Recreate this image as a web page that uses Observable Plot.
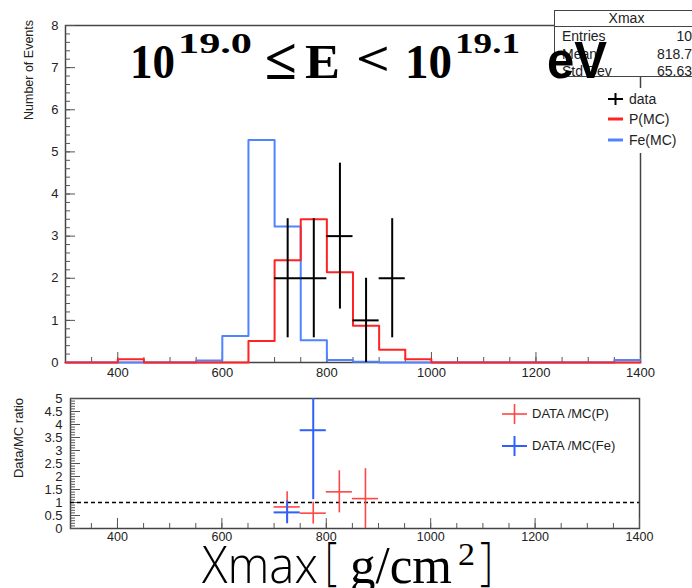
<!DOCTYPE html>
<html>
<head>
<meta charset="utf-8">
<script src="https://cdn.jsdelivr.net/npm/d3@7"></script>
<script src="https://cdn.jsdelivr.net/npm/@observablehq/plot@0.6"></script>
<style>
  body { margin: 0; background: #fff; }
  #chart { position: relative; width: 692px; height: 588px; overflow: hidden;
           font-family: "Liberation Sans", Arial, sans-serif; color: #222; }
  #chart > svg, #chart > div { position: absolute; }
  .stats { left: 554px; top: 10px; width: 145px; height: 67px; background: #fff;
           border: 1px solid #444; box-sizing: border-box; font-size: 14px; line-height: 17px; }
  .stats .head { text-align: center; border-bottom: 1px solid #444; height: 15px; line-height: 15px; }
  .stats .row { display: flex; justify-content: space-between; padding: 0 6px 0 7px; height: 17.5px; line-height: 18px; }
  .legend { background: #fff; font-size: 14px; }
  .legend .item { position: absolute; white-space: nowrap; }
  .legend svg { position: absolute; }
</style>
</head>
<body>
<div id="chart"></div>
<script>
// Xmax histogram, 50 g/cm^2 bins from 300 to 1400
const binLeft = [300, 350, 400, 450, 500, 550, 600, 650, 700, 750, 800,
                 850, 900, 950, 1000, 1050, 1100, 1150, 1200, 1250, 1300, 1350];
const binRight = 1400;
const binHalf = 25;

// Proton simulation (normalised to data)
const protonMC = [0, 0, 0.08, 0, 0, 0, 0, 0.51, 2.43, 3.40, 2.14,
                  0.87, 0.30, 0.08, 0, 0, 0, 0, 0, 0, 0, 0];
// Iron simulation (normalised to data)
const ironMC = [0, 0, 0, 0, 0, 0.05, 0.63, 5.28, 3.23, 0.53, 0.06,
                0.02, 0, 0, 0, 0, 0, 0, 0, 0, 0, 0.06];

// Observed events (bin centres, counts, Poisson errors)
const dataX = [725, 775, 825, 875, 925];
const dataN = [2, 2, 3, 1, 2];
const dataErr = [1.414, 1.414, 1.732, 1.0, 1.414];

// Data / MC ratios
const ratioPX = [725, 775, 825, 875];
const ratioP = [0.83, 0.59, 1.41, 1.15];
const ratioPErr = [0.58, 0.42, 0.81, 1.15];
const ratioFeX = [725, 775];
const ratioFe = [0.62, 3.78];
const ratioFeErr = [0.44, 2.67];

// Axis ticks
const topYTicks = [0, 1, 2, 3, 4, 5, 6, 7, 8];
const xTicks = [400, 600, 800, 1000, 1200, 1400];
const ratioYTicks = [0, 0.5, 1, 1.5, 2, 2.5, 3, 3.5, 4, 4.5, 5];

const RED = "#ff2323";
const BLUE = "#5083ff";
const RED_R = "#ff4646";
const BLUE_R = "#2f60ff";
const FRAME = "#444";
const TICK = "#555";

const stepPts = vals => [
  ...binLeft.map((x, i) => ({x, y: vals[i]})),
  {x: binRight, y: vals[vals.length - 1]}
];
const points = dataX.map((x, i) => ({x, y: dataN[i], e: dataErr[i]}));
const rP = ratioPX.map((x, i) => ({x, y: ratioP[i], e: ratioPErr[i]}));
const rFe = ratioFeX.map((x, i) => ({x, y: ratioFe[i], e: ratioFeErr[i]}));

const fmt = d => String(d);
const font = {fontFamily: "Liberation Sans, Arial, sans-serif", color: "#222", background: "transparent", overflow: "visible"};

const crosses = (pts, stroke, strokeWidth) => [
  Plot.ruleX(pts, {x: "x", y1: d => d.y - d.e, y2: d => d.y + d.e, stroke, strokeWidth, clip: true}),
  Plot.ruleY(pts, {y: "y", x1: d => d.x - binHalf, x2: d => d.x + binHalf, stroke, strokeWidth, clip: true})
];

// Upper panel: event distribution
const upper = Plot.plot({
  width: 692, height: 390,
  marginLeft: 65, marginRight: 52, marginTop: 25, marginBottom: 28,
  x: {domain: [300, 1400]},
  y: {domain: [0, 8]},
  style: {...font, fontSize: "13px"},
  marks: [
    Plot.frame({stroke: FRAME, strokeWidth: 1.5}),
    Plot.axisY(topYTicks, {anchor: "left", tickSize: -10, tickPadding: 17, stroke: TICK, tickFormat: fmt, label: null, fontSize: 13}),
    Plot.axisY(d3.range(0, 8, 0.2), {anchor: "left", tickSize: -5, stroke: TICK, tickFormat: () => "", label: null}),
    Plot.axisX(xTicks, {anchor: "bottom", tickSize: -10, tickPadding: 15, stroke: TICK, tickFormat: fmt, label: null, fontSize: 13}),
    Plot.axisX(d3.range(350, 1400, 50), {anchor: "bottom", tickSize: -5, stroke: TICK, tickFormat: () => "", label: null}),
    Plot.line(stepPts(ironMC), {x: "x", y: "y", curve: "step-after", stroke: BLUE, strokeWidth: 2}),
    Plot.line(stepPts(protonMC), {x: "x", y: "y", curve: "step-after", stroke: RED, strokeWidth: 2}),
    ...crosses(points, "#000", 2)
  ]
});

// Lower panel: data / MC ratio
const lower = Plot.plot({
  width: 692, height: 180,
  marginLeft: 70, marginRight: 53, marginTop: 18, marginBottom: 32,
  x: {domain: [310, 1400]},
  y: {domain: [0, 5]},
  style: {...font, fontSize: "12.5px"},
  marks: [
    Plot.frame({stroke: FRAME, strokeWidth: 1.5}),
    Plot.axisY(ratioYTicks, {anchor: "left", tickSize: -10, tickPadding: 18, stroke: TICK, tickFormat: fmt, label: null, fontSize: 13}),
    Plot.axisY(d3.range(0, 5, 0.1), {anchor: "left", tickSize: -5, stroke: TICK, tickFormat: () => "", label: null}),
    Plot.axisX(xTicks, {anchor: "bottom", tickSize: -10, tickPadding: 14, stroke: TICK, tickFormat: fmt, label: null, fontSize: 12.5}),
    Plot.axisX(d3.range(350, 1400, 50), {anchor: "bottom", tickSize: -5, stroke: TICK, tickFormat: () => "", label: null}),
    Plot.ruleY([1], {stroke: "#000", strokeWidth: 1.5, strokeDasharray: "4,3"}),
    ...crosses(rP, RED_R, 1.6),
    ...crosses(rFe, BLUE_R, 2)
  ]
});

const chart = document.getElementById("chart");
upper.style.left = "0px"; upper.style.top = "0px";
lower.style.left = "0px"; lower.style.top = "380px";
chart.appendChild(upper);
chart.appendChild(lower);

// Statistics box
const stats = document.createElement("div");
stats.className = "stats";
stats.innerHTML = `<div class="head">Xmax</div>
  <div class="row"><span>Entries</span><span>10</span></div>
  <div class="row"><span>Mean</span><span>818.7</span></div>
  <div class="row"><span>Std Dev</span><span>65.63</span></div>`;
chart.appendChild(stats);

// Legends
function legend(left, top, width, height, items, fontSize) {
  const box = document.createElement("div");
  box.className = "legend";
  Object.assign(box.style, {left: left + "px", top: top + "px", width: width + "px", height: height + "px", fontSize: fontSize + "px"});
  for (const it of items) {
    const s = d3.create("svg").attr("width", it.w).attr("height", 24)
      .style("left", it.sx + "px").style("top", (it.cy - 12) + "px");
    s.append("line").attr("x1", 0).attr("x2", it.w).attr("y1", 12).attr("y2", 12)
      .attr("stroke", it.color).attr("stroke-width", it.sw);
    if (it.cross) s.append("line").attr("x1", it.w / 2).attr("x2", it.w / 2)
      .attr("y1", 12 - it.vh).attr("y2", 12 + it.vh).attr("stroke", it.color).attr("stroke-width", it.sw);
    box.appendChild(s.node());
    const t = document.createElement("div");
    t.className = "item";
    t.textContent = it.label;
    Object.assign(t.style, {left: it.tx + "px", top: (it.cy - fontSize * 0.6) + "px", lineHeight: "1.2"});
    box.appendChild(t);
  }
  chart.appendChild(box);
  return box;
}
legend(600, 88, 92, 65, [
  {label: "data", color: "#000", sw: 2, cross: true, vh: 6, sx: 8, w: 15, tx: 29, cy: 11},
  {label: "P(MC)", color: RED, sw: 3, cross: false, sx: 8, w: 15, tx: 29, cy: 31},
  {label: "Fe(MC)", color: BLUE, sw: 3, cross: false, sx: 8, w: 15, tx: 29, cy: 52}
], 14);
const ratioLegend = legend(495, 400, 150, 60, [
  {label: "DATA /MC(P)", color: RED_R, sw: 1.6, cross: true, vh: 10, sx: 7, w: 25, tx: 37, cy: 14},
  {label: "DATA /MC(Fe)", color: BLUE_R, sw: 2, cross: true, vh: 10, sx: 7, w: 25, tx: 37, cy: 46}
], 13);
ratioLegend.style.background = "transparent";

// Titles drawn on top
const ov = d3.create("svg").attr("width", 692).attr("height", 588)
  .style("left", "0px").style("top", "0px").style("pointer-events", "none");
const serif = "Liberation Serif, Times New Roman, serif";
const sans = "Liberation Sans, Arial, sans-serif";
const light = "Open Sans, Noto Sans, sans-serif";
const piece = (txt, x, y, size, len, family, weight) =>
  ov.append("text").attr("x", x).attr("y", y).attr("font-size", size)
    .attr("font-family", family).attr("font-weight", weight)
    .attr("textLength", len).attr("lengthAdjust", "spacingAndGlyphs").attr("fill", "#000").text(txt);

// Energy range title
piece("10", 130, 78, 48, 45, serif, "bold");
piece("19.0", 178, 53, 30, 74, serif, "bold");
piece("≤", 265, 79, 58, 32, serif, "bold");
piece("E", 305, 78, 48, 35, serif, "bold");
piece("<", 356, 75, 48, 34, serif, "bold");
piece("10", 405, 78, 48, 47, serif, "bold");
piece("19.1", 455, 53, 30, 65, serif, "bold");
piece("eV", 547, 78, 52, 60, sans, "bold");

// x-axis title
piece("Xmax", 202, 583, 52, 116, light, "300");
piece("[", 325, 579, 52, 12, light, "300");
piece("g/cm", 350, 583, 52, 102, serif, "normal");
piece("2", 458, 565, 32, 17, serif, "normal");
piece("]", 480, 579, 52, 13, light, "300");

// y-axis titles
ov.append("text").attr("transform", "translate(33,70) rotate(-90)").attr("text-anchor", "middle")
  .attr("font-family", sans).attr("font-size", 12.5).attr("fill", "#222").text("Number of Events");
ov.append("text").attr("transform", "translate(23,438) rotate(-90)").attr("text-anchor", "middle")
  .attr("font-family", sans).attr("font-size", 13).attr("fill", "#222").text("Data/MC ratio");

chart.appendChild(ov.node());
</script>
</body>
</html>
